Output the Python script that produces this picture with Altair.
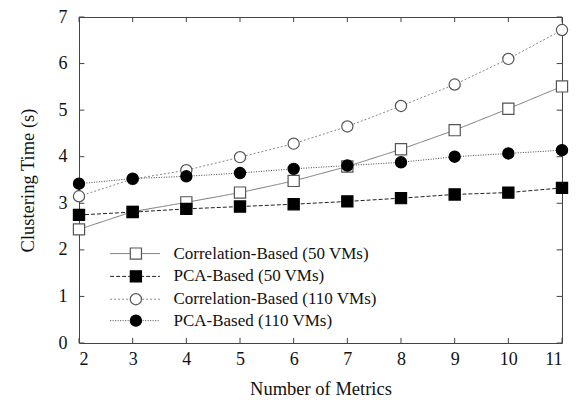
import altair as alt
import pandas as pd

metrics = [2, 3, 4, 5, 6, 7, 8, 9, 10, 11]
corr_50 = [2.44, 2.82, 3.02, 3.23, 3.48, 3.79, 4.16, 4.57, 5.03, 5.51]
pca_50 = [2.75, 2.81, 2.88, 2.93, 2.98, 3.04, 3.11, 3.19, 3.23, 3.33]
corr_110 = [3.15, 3.52, 3.71, 3.99, 4.28, 4.65, 5.09, 5.55, 6.10, 6.72]
pca_110 = [3.42, 3.53, 3.58, 3.65, 3.74, 3.81, 3.88, 4.00, 4.07, 4.14]

names = ["Correlation-Based (50 VMs)", "PCA-Based (50 VMs)",
         "Correlation-Based (110 VMs)", "PCA-Based (110 VMs)"]
series = [corr_50, pca_50, corr_110, pca_110]
line_colors = ["#777777", "#222222", "#888888", "#444444"]
dashes = [[1, 0], [4, 2], [2, 2], [1, 1.5]]
shapes = ["square", "square", "circle", "circle"]
fills = ["white", "black", "white", "black"]
strokes = ["#555555", "black", "#555555", "black"]
sizes = [125, 125, 125, 140]

x_ticks = list(range(2, 12))
y_ticks = list(range(0, 8))

FONT = "Liberation Serif"

rows = []
for n, vals in zip(names, series):
    for m, v in zip(metrics, vals):
        rows.append({"series": n, "metrics": m, "time": v})
df = pd.DataFrame(rows)

xs = alt.Scale(domain=[2, 11], nice=False)
ys = alt.Scale(domain=[0, 7], nice=False)

X = alt.X("metrics:Q", scale=xs, title="Number of Metrics",
          axis=alt.Axis(values=x_ticks, tickSize=0, domain=False, grid=False, labelPadding=7,
                        titlePadding=11, format="d"))
Y = alt.Y("time:Q", scale=ys, title="Clustering Time (s)",
          axis=alt.Axis(values=y_ticks, tickSize=0, domain=False, grid=False, labelPadding=12,
                        titlePadding=21, format="d"))

lines = alt.Chart(df).mark_line(strokeWidth=1).encode(
    x=X, y=Y,
    color=alt.Color("series:N", scale=alt.Scale(domain=names, range=line_colors), legend=None),
    strokeDash=alt.StrokeDash("series:N", scale=alt.Scale(domain=names, range=dashes), legend=None),
    detail="series:N",
)

points = alt.Chart(df).mark_point(strokeWidth=1.2, opacity=1, filled=False).encode(
    x=X, y=Y,
    shape=alt.Shape("series:N", scale=alt.Scale(domain=names, range=shapes), legend=None),
    fill=alt.Fill("series:N", scale=alt.Scale(domain=names, range=fills), legend=None),
    stroke=alt.Stroke("series:N", scale=alt.Scale(domain=names, range=strokes), legend=None),
    size=alt.Size("series:N", scale=alt.Scale(domain=names, range=sizes), legend=None),
)

# inward tick marks on all four sides
tx = pd.DataFrame({"v": x_ticks})
ty = pd.DataFrame({"v": y_ticks})
tick_len_y = 0.11
tick_len_x = 0.1
xb = alt.Chart(tx).mark_rule(color="#444", strokeWidth=1).encode(
    x=alt.X("v:Q", scale=xs), y=alt.datum(0), y2=alt.datum(tick_len_y))
xt = alt.Chart(tx).mark_rule(color="#444", strokeWidth=1).encode(
    x=alt.X("v:Q", scale=xs), y=alt.datum(7), y2=alt.datum(7 - tick_len_y))
yl = alt.Chart(ty).mark_rule(color="#444", strokeWidth=1).encode(
    y=alt.Y("v:Q", scale=ys), x=alt.datum(2), x2=alt.datum(2 + tick_len_x))
yr = alt.Chart(ty).mark_rule(color="#444", strokeWidth=1).encode(
    y=alt.Y("v:Q", scale=ys), x=alt.datum(11), x2=alt.datum(11 - tick_len_x))

# manual legend (in data coordinates)
leg_y = [1.92, 1.43, 0.94, 0.48]
leg = pd.DataFrame({"series": names, "y": leg_y, "x1": [2.58] * 4, "x2": [3.51] * 4,
                    "xm": [3.06] * 4, "xt": [3.76] * 4})
leg_lines = alt.Chart(leg).mark_rule(strokeWidth=1).encode(
    x=alt.X("x1:Q", scale=xs), x2="x2:Q", y=alt.Y("y:Q", scale=ys),
    color=alt.Color("series:N", scale=alt.Scale(domain=names, range=line_colors), legend=None),
    strokeDash=alt.StrokeDash("series:N", scale=alt.Scale(domain=names, range=dashes), legend=None),
)
leg_pts = alt.Chart(leg).mark_point(strokeWidth=1.2, opacity=1).encode(
    x=alt.X("xm:Q", scale=xs), y=alt.Y("y:Q", scale=ys),
    shape=alt.Shape("series:N", scale=alt.Scale(domain=names, range=shapes), legend=None),
    fill=alt.Fill("series:N", scale=alt.Scale(domain=names, range=fills), legend=None),
    stroke=alt.Stroke("series:N", scale=alt.Scale(domain=names, range=strokes), legend=None),
    size=alt.Size("series:N", scale=alt.Scale(domain=names, range=sizes), legend=None),
)
leg_txt = alt.Chart(leg).mark_text(align="left", baseline="middle", font=FONT,
                                   fontSize=17, color="#111").encode(
    x=alt.X("xt:Q", scale=xs), y=alt.Y("y:Q", scale=ys), text="series:N")

chart = alt.layer(xb, xt, yl, yr, lines, points, leg_lines, leg_pts, leg_txt).properties(
    width=483, height=326,
    autosize=alt.AutoSizeParams(type="none"),
    padding={"left": 71, "top": 9, "right": 18, "bottom": 56},
    background="white",
).configure_view(
    stroke="#444", strokeWidth=1
).configure_axis(
    labelFont=FONT, titleFont=FONT, labelFontSize=18, titleFontSize=18.5,
    labelColor="#111", titleColor="#111", titleFontWeight="normal",
)

chart.save("out.html", embed_options={"renderer": "svg", "actions": False})
